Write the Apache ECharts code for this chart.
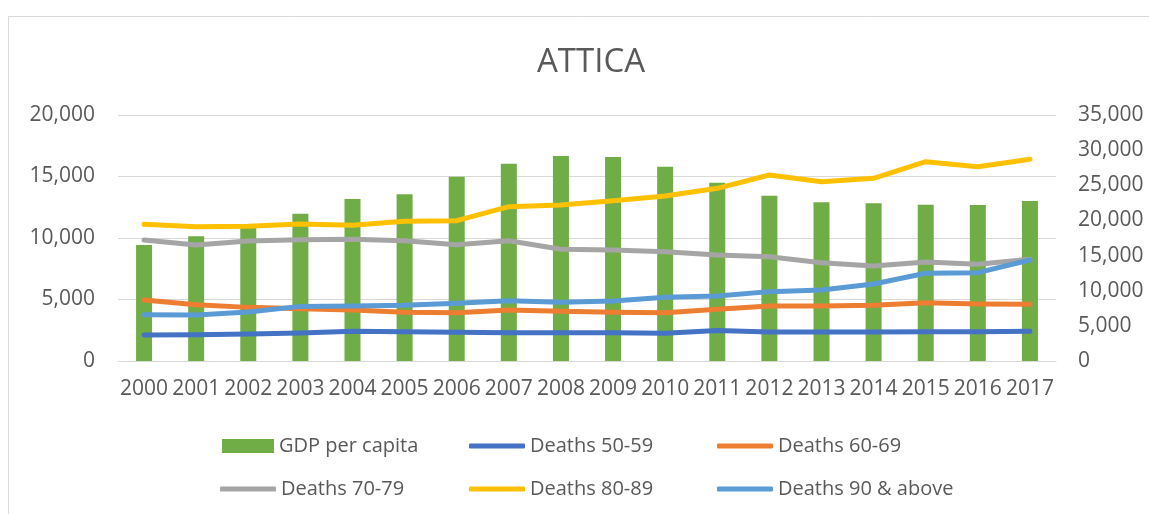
<!DOCTYPE html>
<html>
<head>
<meta charset="utf-8">
<title>ATTICA</title>
<script src="https://cdn.jsdelivr.net/npm/echarts@6/dist/echarts.min.js"></script>
<style>
  html, body { margin: 0; padding: 0; background: #ffffff; }
  #chart { width: 1149px; height: 514px; }
</style>
</head>
<body>
<div id="chart"></div>
<script>
// Years on the category axis
const years = ['2000', '2001', '2002', '2003', '2004', '2005', '2006', '2007', '2008',
               '2009', '2010', '2011', '2012', '2013', '2014', '2015', '2016', '2017'];

// GDP per capita (right axis)
const gdpPerCapita = [16500, 17740, 19000, 20960, 23050, 23710, 26230, 28070, 29170,
                      29030, 27650, 25370, 23520, 22570, 22430, 22240, 22200, 22760];

// Deaths by age group (left axis)
const deaths5059 = [2110, 2140, 2200, 2280, 2410, 2380, 2330, 2300, 2300,
                    2300, 2250, 2470, 2360, 2360, 2360, 2380, 2380, 2410];
const deaths6069 = [4960, 4580, 4360, 4250, 4150, 3960, 3930, 4150, 4040,
                    3960, 3930, 4200, 4470, 4470, 4530, 4740, 4630, 4610];
const deaths7079 = [9840, 9430, 9760, 9860, 9890, 9780, 9460, 9780, 9080,
                    9020, 8890, 8620, 8480, 7990, 7720, 8050, 7860, 8270];
const deaths8089 = [11110, 10920, 10950, 11140, 11030, 11360, 11410, 12550, 12680,
                    13030, 13410, 14040, 15120, 14580, 14850, 16200, 15800, 16400];
const deaths90up = [3770, 3740, 3980, 4440, 4470, 4530, 4690, 4900, 4770,
                    4880, 5180, 5280, 5640, 5770, 6260, 7130, 7180, 8210];

const FONT = 'Open Sans';
const TEXT = '#595959';
const GRIDLINE = '#D9D9D9';

const fmt = v => v.toLocaleString('en-US');

function lineSeries(name, data, color) {
  return {
    name, type: 'line', data, yAxisIndex: 0,
    symbol: 'none', smooth: false,
    lineStyle: { color, width: 5, cap: 'round', join: 'round' },
    itemStyle: { color },
    emphasis: { disabled: true }
  };
}

// One legend entry per component so the entries sit in a fixed 3-column grid
function legendEntry(name, left, top, isBar) {
  return {
    left, top, padding: 0,
    selectedMode: false,
    itemWidth: isBar ? 52 : 56,
    itemHeight: isBar ? 14 : 5,
    itemTextGap: isBar ? 5 : 4,
    textStyle: { color: TEXT, fontFamily: FONT, fontSize: 20 },
    data: [{ name, icon: isBar ? 'rect' : 'roundRect' }]
  };
}

const chart = echarts.init(document.getElementById('chart'), null, { renderer: 'canvas' });
chart.setOption({
  animation: false,
  backgroundColor: '#ffffff',
  graphic: [{
    type: 'rect', silent: true, z: -10,
    shape: { x: 8.5, y: 16.5, width: 1170, height: 530 },
    style: { fill: 'none', stroke: GRIDLINE, lineWidth: 1 }
  }],
  title: {
    text: 'ATTICA',
    left: 532, top: 41,
    textStyle: { color: TEXT, fontFamily: FONT, fontSize: 33, fontWeight: 'normal' }
  },
  legend: [
    legendEntry('GDP per capita', 222, 436, true),
    legendEntry('Deaths 50-59', 469, 436, false),
    legendEntry('Deaths 60-69', 717, 436, false),
    legendEntry('Deaths 70-79', 220, 479, false),
    legendEntry('Deaths 80-89', 469, 479, false),
    legendEntry('Deaths 90 & above', 717, 479, false)
  ],
  grid: { left: 118, right: 93, top: 115, bottom: 153, containLabel: false, outerBoundsMode: 'none' },
  xAxis: {
    type: 'category', data: years,
    axisLine: { lineStyle: { color: GRIDLINE, width: 1 } },
    axisTick: { show: false },
    axisLabel: { interval: 0, margin: 18, color: TEXT, fontFamily: FONT, fontSize: 21 }
  },
  yAxis: [
    {
      type: 'value', position: 'left', min: 0, max: 20000, interval: 5000,
      axisLine: { show: false }, axisTick: { show: false },
      axisLabel: { margin: 23, color: TEXT, fontFamily: FONT, fontSize: 21, formatter: fmt },
      splitLine: { lineStyle: { color: GRIDLINE, width: 1 } }
    },
    {
      type: 'value', position: 'right', min: 0, max: 35000, interval: 5000,
      axisLine: { show: false }, axisTick: { show: false },
      axisLabel: { margin: 22, color: TEXT, fontFamily: FONT, fontSize: 21, formatter: fmt },
      splitLine: { show: false }
    }
  ],
  series: [
    {
      name: 'GDP per capita', type: 'bar', data: gdpPerCapita, yAxisIndex: 1,
      barWidth: 16, itemStyle: { color: '#70AD47' }, emphasis: { disabled: true }
    },
    lineSeries('Deaths 50-59', deaths5059, '#4472C4'),
    lineSeries('Deaths 60-69', deaths6069, '#ED7D31'),
    lineSeries('Deaths 70-79', deaths7079, '#A5A5A5'),
    lineSeries('Deaths 80-89', deaths8089, '#FFC000'),
    lineSeries('Deaths 90 & above', deaths90up, '#5B9BD5')
  ]
});
</script>
</body>
</html>
